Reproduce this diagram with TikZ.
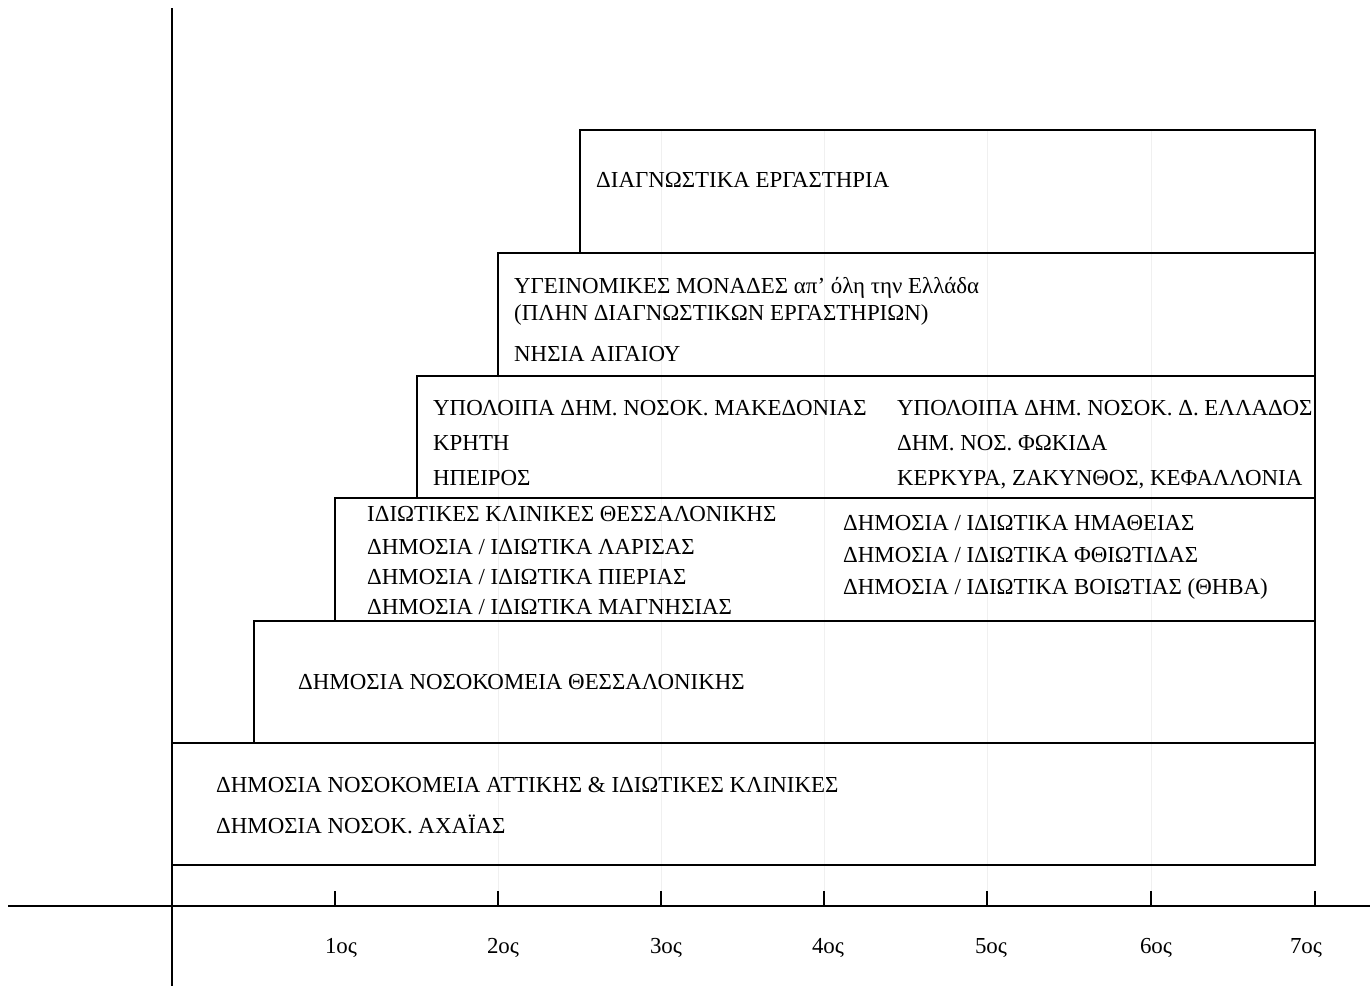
\documentclass[tikz,border=0pt]{standalone}
\usepackage{fontspec}
\setmainfont{Liberation Serif}
\newcommand\fsz{\fontsize{22.9}{27}\selectfont}
\begin{document}
\begin{tikzpicture}[x=1pt,y=-1pt,
  box/.style={draw=black,line width=1.6pt},
  axisline/.style={draw=black,line width=1.6pt},
  tickline/.style={draw=black,line width=1.4pt},
  faint/.style={draw=black!6,line width=0.8pt},
  txt/.style={anchor=base west,inner sep=0pt,font=\fsz},
  lbl/.style={anchor=base,inner sep=0pt,font=\fsz}]
\useasboundingbox (0,0) rectangle (1370,986);
% faint guide lines
\draw[faint] (498,253) -- (498,906);
\foreach \xx in {661,824,987,1151} \draw[faint] (\xx,130) -- (\xx,906);
% boxes
\draw[box] (172,743) rectangle (1315,865);
\draw[box] (254,621) rectangle (1315,743);
\draw[box] (335,498) rectangle (1315,621);
\draw[box] (417,376) rectangle (1315,498);
\draw[box] (498,253) rectangle (1315,376);
\draw[box] (580,130) rectangle (1315,253);
% axes
\coordinate (yt) at (172,8);
\coordinate (yb) at (172,986);
\coordinate (xl) at (8,906);
\coordinate (xr) at (1370,906);
\draw[axisline] (yt) -- (yb);
\draw[axisline] (xl) -- (xr);
% ticks
\foreach \xx in {335,498,661,824,987,1151,1315} \draw[tickline] (\xx,891) -- (\xx,906);
% tick labels
\node[lbl] (t1) at (341,953) {1ος};
\node[lbl] (t2) at (503,953) {2ος};
\node[lbl] (t3) at (666,953) {3ος};
\node[lbl] (t4) at (828,953) {4ος};
\node[lbl] (t5) at (991,953) {5ος};
\node[lbl] (t6) at (1156,953) {6ος};
\node[lbl] (t7) at (1306,953) {7ος};
% row 1
\node[txt] (a1) at (216,792) {ΔΗΜΟΣΙΑ ΝΟΣΟΚΟΜΕΙΑ ΑΤΤΙΚΗΣ \& ΙΔΙΩΤΙΚΕΣ ΚΛΙΝΙΚΕΣ};
\node[txt] (a2) at (216,833) {ΔΗΜΟΣΙΑ ΝΟΣΟΚ. ΑΧΑΪΑΣ};
% row 2
\node[txt] (b1) at (298,689) {ΔΗΜΟΣΙΑ ΝΟΣΟΚΟΜΕΙΑ ΘΕΣΣΑΛΟΝΙΚΗΣ};
% row 3
\node[txt] (c1) at (367,521) {ΙΔΙΩΤΙΚΕΣ ΚΛΙΝΙΚΕΣ ΘΕΣΣΑΛΟΝΙΚΗΣ};
\node[txt] (c2) at (367,554) {ΔΗΜΟΣΙΑ / ΙΔΙΩΤΙΚΑ ΛΑΡΙΣΑΣ};
\node[txt] (c3) at (367,584) {ΔΗΜΟΣΙΑ / ΙΔΙΩΤΙΚΑ ΠΙΕΡΙΑΣ};
\node[txt] (c4) at (367,614) {ΔΗΜΟΣΙΑ / ΙΔΙΩΤΙΚΑ ΜΑΓΝΗΣΙΑΣ};
\node[txt] (c5) at (843,530) {ΔΗΜΟΣΙΑ / ΙΔΙΩΤΙΚΑ ΗΜΑΘΕΙΑΣ};
\node[txt] (c6) at (843,562) {ΔΗΜΟΣΙΑ / ΙΔΙΩΤΙΚΑ ΦΘΙΩΤΙΔΑΣ};
\node[txt] (c7) at (843,594) {ΔΗΜΟΣΙΑ / ΙΔΙΩΤΙΚΑ ΒΟΙΩΤΙΑΣ (ΘΗΒΑ)};
% row 4
\node[txt] (d1) at (433,415) {ΥΠΟΛΟΙΠΑ ΔΗΜ. ΝΟΣΟΚ. ΜΑΚΕΔΟΝΙΑΣ};
\node[txt] (d2) at (433,450) {ΚΡΗΤΗ};
\node[txt] (d3) at (433,485) {ΗΠΕΙΡΟΣ};
\node[txt] (d4) at (897,415) {ΥΠΟΛΟΙΠΑ ΔΗΜ. ΝΟΣΟΚ. Δ. ΕΛΛΑΔΟΣ};
\node[txt] (d5) at (897,450) {ΔΗΜ. ΝΟΣ. ΦΩΚΙΔΑ};
\node[txt] (d6) at (897,485) {ΚΕΡΚΥΡΑ, ΖΑΚΥΝΘΟΣ, ΚΕΦΑΛΛΟΝΙΑ};
% row 5
\node[txt] (e1) at (514,293) {ΥΓΕΙΝΟΜΙΚΕΣ ΜΟΝΑΔΕΣ απ’ όλη την Ελλάδα};
\node[txt] (e2) at (514,320) {(ΠΛΗΝ ΔΙΑΓΝΩΣΤΙΚΩΝ ΕΡΓΑΣΤΗΡΙΩΝ)};
\node[txt] (e3) at (514,361) {ΝΗΣΙΑ ΑΙΓΑΙΟΥ};
% row 6
\node[txt] (f1) at (596,187) {ΔΙΑΓΝΩΣΤΙΚΑ ΕΡΓΑΣΤΗΡΙΑ};
\end{tikzpicture}
\end{document}
